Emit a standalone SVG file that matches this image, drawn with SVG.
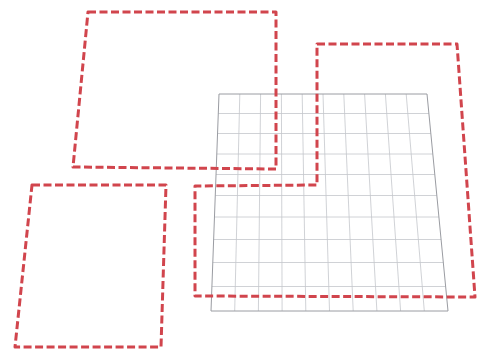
<svg xmlns="http://www.w3.org/2000/svg" width="478" height="349" viewBox="0 0 478 349">
<style>
.bg{fill:#ffffff}
.gl{stroke:#c4c6cc;stroke-width:0.8;fill:none}
.gb{stroke:#9a9ca2;stroke-width:1;fill:none}
.zone{fill:none;stroke:#d1454d;stroke-width:3;stroke-dasharray:8 3.5;stroke-linejoin:round;stroke-linecap:butt}
</style>
<rect class="bg" x="0" y="0" width="478" height="349"/>
<g id="grid">
<g class="gl">
<line x1="239.8" y1="94" x2="234.7" y2="311"/>
<line x1="260.6" y1="94" x2="258.4" y2="311"/>
<line x1="281.4" y1="94" x2="282.1" y2="311"/>
<line x1="302.2" y1="94" x2="305.8" y2="311"/>
<line x1="323" y1="94" x2="329.5" y2="311"/>
<line x1="343.8" y1="94" x2="353.2" y2="311"/>
<line x1="364.6" y1="94" x2="376.9" y2="311"/>
<line x1="385.4" y1="94" x2="400.6" y2="311"/>
<line x1="406.2" y1="94" x2="424.3" y2="311"/>
<line x1="218.3" y1="113.5" x2="428.9" y2="113.5"/>
<line x1="217.5" y1="133.5" x2="430.8" y2="133.5"/>
<line x1="216.8" y1="154" x2="432.8" y2="154"/>
<line x1="216" y1="174.5" x2="434.8" y2="174.5"/>
<line x1="215.3" y1="195.5" x2="436.8" y2="195.5"/>
<line x1="214.5" y1="217" x2="438.9" y2="217"/>
<line x1="213.6" y1="239.5" x2="441.1" y2="239.5"/>
<line x1="212.8" y1="262.5" x2="443.3" y2="262.5"/>
<line x1="211.9" y1="286.5" x2="445.6" y2="286.5"/>
</g>
<polygon class="gb" points="219,94 427,94 448,311 211,311"/>
</g>
<g id="zone-top">
<path class="zone" d="M88,12 L276,12 L276,169 L73,167 Z"/>
</g>
<g id="zone-bottom-left">
<path class="zone" d="M32,185 L166,185 L161,347 L15,347 Z"/>
</g>
<g id="zone-right">
<path class="zone" d="M317,44 L457,44 L475,297 L195,296 L195,186 L317,185 Z"/>
</g>
</svg>
